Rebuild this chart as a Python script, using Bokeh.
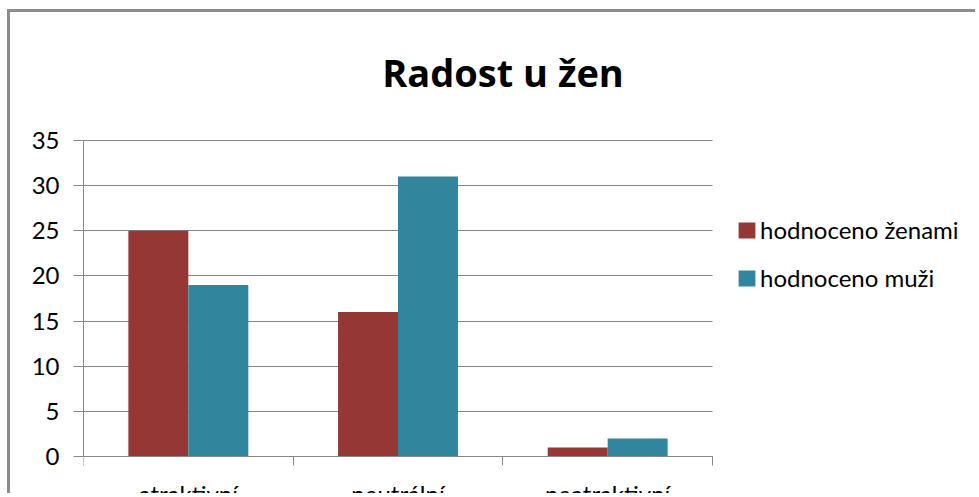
from bokeh.plotting import figure
from bokeh.models import (ColumnDataSource, Range1d, FixedTicker, Legend, LegendItem, LinearAxis, Label)
from bokeh.transform import dodge
from bokeh.embed import file_html
from bokeh.resources import INLINE

# ---- data ----
categories = ["atraktivní", "neutrální", "neatraktivní"]
series_names = ["hodnoceno ženami", "hodnoceno muži"]
zenami = [25, 16, 1]
muzi = [19, 31, 2]
y_ticks = [0, 5, 10, 15, 20, 25, 30, 35]
title_text = "Radost u žen"

RED = "#953735"
TEAL = "#31859C"
GRID = "#878787"
FONT = "Lato"

# ---- geometry of the canvas (pixels) ----
W, H = 968, 484
left, right, top = 73, 702, 128      # plotting area of the bars
zero_px = 444                        # pixel row of value 0
title_center_px, title_base_px = 492.5, 59
ymax = 35
ncat = len(categories)
px_per_unit = (zero_px - top) / ymax
ymin = -(H - zero_px) / px_per_unit
ytop = ymax + top / px_per_unit
cat_px = (right - left) / ncat
xmax = (W - left) / cat_px

centers = [i + 0.5 for i in range(ncat)]
source = ColumnDataSource(dict(x=centers, zenami=zenami, muzi=muzi))

p = figure(width=W, height=H, output_backend="svg", toolbar_location=None,
           x_range=Range1d(0, xmax), y_range=Range1d(ymin, ytop),
           min_border_left=left, min_border_right=0,
           min_border_top=0, min_border_bottom=0,
           x_axis_location=None)
p.styles = {"border-top": "3px solid #8c8c8c", "border-left": "3px solid #8c8c8c",
            "margin-left": "7px", "margin-top": "9px"}
p.outline_line_color = None
p.background_fill_color = "white"
p.border_fill_color = "white"
p.title.text = ""
p.title.visible = False

bw = 0.286
r1 = p.vbar(x=dodge("x", -bw / 2, range=p.x_range), top="zenami", bottom=0, width=bw,
            source=source, fill_color=RED, line_color=None)
r2 = p.vbar(x=dodge("x", bw / 2, range=p.x_range), top="muzi", bottom=0, width=bw,
            source=source, fill_color=TEAL, line_color=None)

# x axis drawn at y=0
xaxis = LinearAxis(fixed_location=0, bounds=(0, ncat),
                   ticker=FixedTicker(ticks=centers, minor_ticks=list(range(ncat + 1))),
                   major_label_overrides={c: n for c, n in zip(centers, categories)})
xaxis.axis_line_color = GRID
xaxis.major_tick_line_color = None
xaxis.major_tick_out = 0
xaxis.major_tick_in = 0
xaxis.minor_tick_line_color = GRID
xaxis.minor_tick_out = 9
xaxis.minor_tick_in = 0
xaxis.major_label_standoff = 13
xaxis.major_label_text_font = FONT
xaxis.major_label_text_font_size = "24px"
xaxis.major_label_text_color = "#000000"
p.add_layout(xaxis, "below")

ya = p.yaxis[0]
ya.ticker = FixedTicker(ticks=y_ticks, minor_ticks=[])
ya.bounds = (0, ymax)
ya.axis_line_color = GRID
ya.major_tick_line_color = GRID
ya.major_tick_out = 10
ya.major_tick_in = 0
ya.minor_tick_line_color = None
ya.major_label_standoff = 14
ya.major_label_text_font = FONT
ya.major_label_text_font_size = "24px"
ya.major_label_text_color = "#000000"

p.xgrid.visible = False
grid = p.ygrid[0]
grid.ticker = FixedTicker(ticks=y_ticks)
grid.grid_line_color = GRID
grid.grid_line_width = 1
if "cross_bounds" in grid.properties():
    grid.cross_bounds = (0, ncat)
else:
    grid.visible = False
    ya.major_tick_in = right - left
    r1.level = "overlay"
    r2.level = "overlay"

legend = Legend(items=[LegendItem(label=series_names[0], renderers=[r1]),
                       LegendItem(label=series_names[1], renderers=[r2])],
                location=(653, 204), orientation="vertical",
                glyph_width=21, glyph_height=20, label_standoff=3,
                label_height=22, spacing=19, padding=0, margin=0,
                border_line_color=None, background_fill_alpha=0,
                label_text_font=FONT, label_text_font_size="24px",
                label_text_color="#000000")
p.add_layout(legend, "center")

title = Label(x=(title_center_px - left) / cat_px,
              y=ymax + (top - title_base_px) / px_per_unit,
              text=title_text, text_align="center", text_baseline="alphabetic",
              text_font="Open Sans", text_font_style="bold", text_font_size="38px",
              text_color="#000000")
p.add_layout(title)

open("out.html", "w").write(file_html(p, INLINE))
